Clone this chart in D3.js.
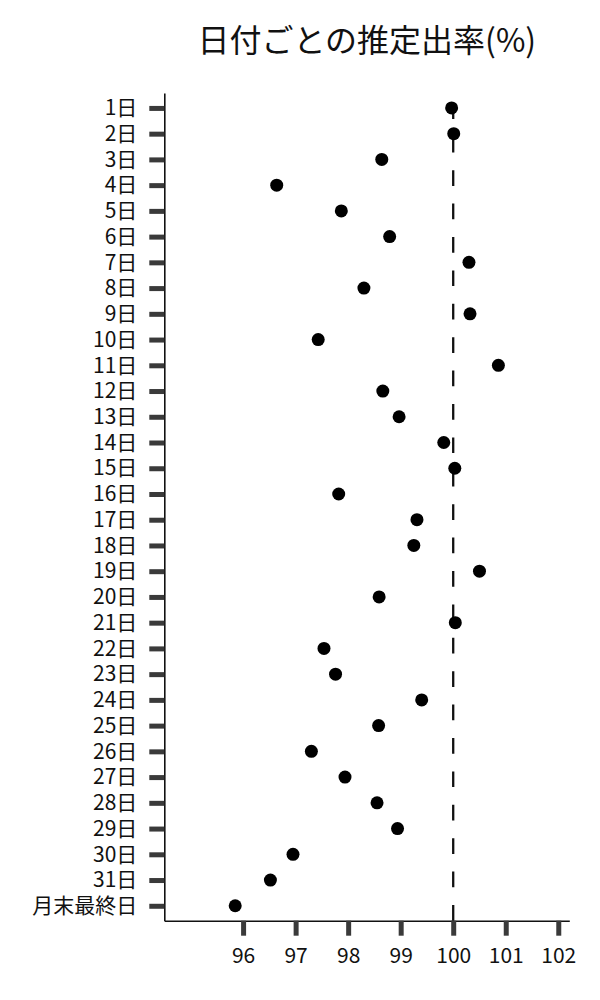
<!DOCTYPE html>
<html>
<head>
<meta charset="utf-8">
<script src="https://cdn.jsdelivr.net/npm/d3@7"></script>
<style>
  html, body { margin: 0; padding: 0; background: #fff; }
  svg { display: block; }
  text { font-family: "Noto Sans CJK JP", "Noto Sans", sans-serif; }
</style>
</head>
<body>
<div id="chart"></div>
<script>
const title = "日付ごとの推定出率(%)";
const categories = ["1日","2日","3日","4日","5日","6日","7日","8日","9日","10日",
  "11日","12日","13日","14日","15日","16日","17日","18日","19日","20日",
  "21日","22日","23日","24日","25日","26日","27日","28日","29日","30日","31日","月末最終日"];
const values = [99.97,100.01,98.64,96.64,97.87,98.79,100.30,98.30,100.32,97.43,
  100.86,98.66,98.97,99.82,100.03,97.82,99.31,99.25,100.50,98.59,
  100.04,97.54,97.76,99.40,98.58,97.30,97.94,98.55,98.94,96.95,96.52,95.85];
const xTicks = [96,97,98,99,100,101,102];
const referenceValue = 100;

(function () {
const W = 600, H = 1000;
const pLeft = 164.3, pRight = 569.3, pTop = 93, pBottom = 920.7;

const svg = d3.select("#chart").append("svg").attr("width", W).attr("height", H);

const x = d3.scaleLinear().domain([94.5, 102.21]).range([pLeft, pRight]);
const y = d3.scalePoint().domain(categories).range([pTop, pBottom]).padding(0.58);

// title
svg.append("text")
  .attr("x", (pLeft + pRight) / 2).attr("y", 52)
  .attr("text-anchor", "middle")
  .attr("font-size", 32).attr("fill", "#111")
  .text(title);

// y axis
const yAxis = svg.append("g").attr("transform", `translate(${pLeft},0)`)
  .call(d3.axisLeft(y).tickSize(15).tickPadding(12).tickSizeOuter(0));
yAxis.select(".domain").attr("stroke", "#111").attr("stroke-width", 1.6);
yAxis.selectAll(".tick line").attr("stroke", "#3a3a3a").attr("stroke-width", 5);
yAxis.selectAll(".tick text").attr("font-size", 21).attr("fill", "#111")
  .attr("font-family", '"Noto Sans CJK JP", sans-serif');

// x axis
const xAxis = svg.append("g").attr("transform", `translate(0,${pBottom})`)
  .call(d3.axisBottom(x).tickValues(xTicks).tickSize(15).tickPadding(12).tickSizeOuter(0));
xAxis.select(".domain").attr("stroke", "#111").attr("stroke-width", 1.6);
xAxis.selectAll(".tick line").attr("stroke", "#3a3a3a").attr("stroke-width", 5);
xAxis.selectAll(".tick text").attr("font-size", 21).attr("fill", "#111")
  .attr("font-family", '"Noto Sans CJK JP", sans-serif');

// reference dashed line (drawn from the bottom upwards)
svg.append("line")
  .attr("x1", x(referenceValue)).attr("x2", x(referenceValue))
  .attr("y1", pBottom).attr("y2", pTop)
  .attr("stroke", "#111").attr("stroke-width", 2.3)
  .attr("stroke-dasharray", "15.7,17.7");

// dots
svg.append("g").selectAll("circle")
  .data(categories.map((c, i) => ({c, v: values[i]})))
  .join("circle")
  .attr("cx", d => x(d.v))
  .attr("cy", d => y(d.c))
  .attr("r", 6.5)
  .attr("fill", "#000");
})();
</script>
</body>
</html>
